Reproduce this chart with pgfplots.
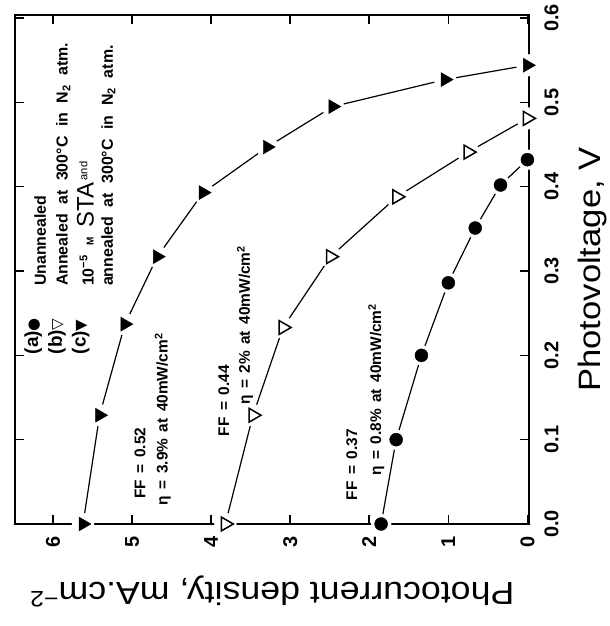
\documentclass[border=0pt]{standalone}
\usepackage{fontspec}
\setmainfont{Liberation Sans}
\newfontfamily\dejavu{DejaVu Sans}
\newfontfamily\wide[FakeStretch=1.12]{Liberation Sans}
\usepackage{pgfplots}
\pgfplotsset{compat=1.18}

\newcommand{\ann}{\bfseries\fontsize{15.5}{16}\selectfont\spaceskip=0.42em plus 0.1em\relax}
\newcommand{\leg}{\bfseries\fontsize{16}{16}\selectfont\spaceskip=0.6em plus 0.1em\relax}

\begin{document}
\begin{tikzpicture}
\begin{axis}[
  name=ax,
  width=514bp, height=509bp, scale only axis,
  x dir=reverse,
  xmin=-0.02, xmax=6.48,
  ymin=0, ymax=0.6036,
  xtick={0,1,2,3,4,5,6},
  ytick={0,0.1,0.2,0.3,0.4,0.5,0.6},
  yticklabels={0.0,0.1,0.2,0.3,0.4,0.5,0.6},
  xtick pos=both, ytick pos=both,
  xticklabel pos=bottom, yticklabel pos=right,
  tick align=inside,
  major tick length=9bp,
  axis line style={line width=2.6bp},
  every tick/.style={black, line width=1.6bp},
  ticklabel style={font=\bfseries\fontsize{20}{20}\selectfont},
  /pgf/number format/assume math mode=true,
  xticklabel style={yshift=-9bp, rotate=90, anchor=east},
  yticklabel style={xshift=12bp, rotate=90, anchor=north},
  every axis x label/.style={at={(axis description cs:0.5,-0.132)}, rotate=180, anchor=center, font=\wide\fontsize{32}{32}\selectfont},
  every axis y label/.style={at={(axis description cs:1.124,0.5)}, rotate=90, anchor=center, font=\wide\fontsize{31}{31}\selectfont},
  xlabel={Photocurrent density, mA.cm\textsuperscript{−2}},
  ylabel={Photovoltage, V},
  clip=false, axis on top,
]
% (c) 10^-5 M STA and annealed
\addplot[black, line width=1.2bp] coordinates {(5.62,0) (5.41,0.129) (5.09,0.237) (4.68,0.317) (4.10,0.393) (3.29,0.447) (2.46,0.495) (1.04,0.527) (0,0.544)};
\addplot[only marks, mark=*, white, mark size=11bp] coordinates {(5.62,0) (5.41,0.129) (5.09,0.237) (4.68,0.317) (4.10,0.393) (3.29,0.447) (2.46,0.495) (1.04,0.527) (0,0.544)};
\addplot[only marks, black, mark=triangle*, mark size=8bp, mark options={rotate=-90, fill=black}] coordinates {(5.62,0) (5.41,0.129) (5.09,0.237) (4.68,0.317) (4.10,0.393) (3.29,0.447) (2.46,0.495) (1.04,0.527) (0,0.544)};
% (b) annealed
\addplot[black, line width=1.2bp] coordinates {(3.82,0) (3.47,0.129) (3.09,0.233) (2.49,0.317) (1.65,0.388) (0.75,0.441) (0,0.481)};
\addplot[only marks, mark=*, white, mark size=11bp] coordinates {(3.82,0) (3.47,0.129) (3.09,0.233) (2.49,0.317) (1.65,0.388) (0.75,0.441) (0,0.481)};
\addplot[only marks, black, mark=triangle*, mark size=8bp, mark options={rotate=-90, fill=white, line width=1.5bp}] coordinates {(3.82,0) (3.47,0.129) (3.09,0.233) (2.49,0.317) (1.65,0.388) (0.75,0.441) (0,0.481)};
% (a) unannealed
\addplot[black, line width=1.2bp] coordinates {(1.85,0) (1.66,0.10) (1.34,0.200) (1.00,0.286) (0.66,0.351) (0.34,0.402) (0,0.432)};
\addplot[only marks, mark=*, white, mark size=10bp] coordinates {(1.85,0) (1.66,0.10) (1.34,0.200) (1.00,0.286) (0.66,0.351) (0.34,0.402) (0,0.432)};
\addplot[only marks, black, mark=*, mark size=6.5bp] coordinates {(1.85,0) (1.66,0.10) (1.34,0.200) (1.00,0.286) (0.66,0.351) (0.34,0.402) (0,0.432)};

% legend block
\node[rotate=90, anchor=west, font=\bfseries\fontsize{19}{19}\selectfont, inner sep=0pt] at (axis cs:6.25,0.201) {(a){\dejavu\fontsize{15}{15}\selectfont ●}};
\node[rotate=90, anchor=west, font=\bfseries\fontsize{19}{19}\selectfont, inner sep=0pt] at (axis cs:5.95,0.201) {(b){\dejavu\fontsize{15}{15}\selectfont ▽}};
\node[rotate=90, anchor=west, font=\bfseries\fontsize{19}{19}\selectfont, inner sep=0pt] at (axis cs:5.65,0.201) {(c){\dejavu\fontsize{15}{15}\selectfont ▼}};
\node[rotate=90, anchor=west, font=\leg, inner sep=0pt] at (axis cs:6.16,0.282) {Unannealed};
\node[rotate=90, anchor=west, font=\leg, inner sep=0pt] at (axis cs:5.87,0.282) {Annealed at 300°C in N\textsubscript{2} atm.};
\node[rotate=90, anchor=west, font=\leg, inner sep=0pt] at (axis cs:5.59,0.282) {10\textsuperscript{−5} {\fontsize{10}{10}\selectfont M} {\mdseries\fontsize{24}{24}\selectfont STA}\,\textsuperscript{\mdseries and}};
\node[rotate=90, anchor=west, font=\leg, inner sep=0pt] at (axis cs:5.30,0.282) {annealed at 300°C in N\textsubscript{2} atm.};

% annotations
\node[rotate=90, anchor=west, font=\ann, inner sep=0pt] at (axis cs:4.90,0.030) {FF = 0.52};
\node[rotate=90, anchor=west, font=\ann, inner sep=0pt] at (axis cs:4.61,0.022) {η = 3.9\% at 40mW/cm\textsuperscript{2}};
\node[rotate=90, anchor=west, font=\ann, inner sep=0pt] at (axis cs:3.84,0.104) {FF = 0.44};
\node[rotate=90, anchor=west, font=\ann, inner sep=0pt] at (axis cs:3.57,0.141) {η = 2\% at 40mW/cm\textsuperscript{2}};
\node[rotate=90, anchor=west, font=\ann, inner sep=0pt] at (axis cs:2.22,0.028) {FF = 0.37};
\node[rotate=90, anchor=west, font=\ann, inner sep=0pt] at (axis cs:1.91,0.057) {η = 0.8\% at 40mW/cm\textsuperscript{2}};
\end{axis}
\pgfresetboundingbox
\path[use as bounding box] ([shift={(-15bp,-102bp)}]ax.south west) rectangle ([shift={(81bp,15bp)}]ax.north east);
\end{tikzpicture}
\end{document}
